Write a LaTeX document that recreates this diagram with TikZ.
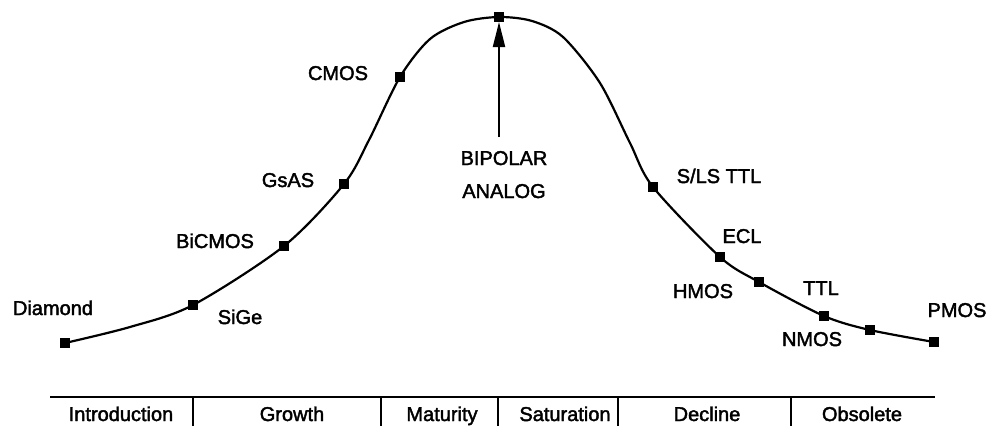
\documentclass[tikz,border=0pt]{standalone}
\usepackage{fontspec}
\setmainfont{Liberation Sans}
\newfontface\labelfont{Liberation Sans}[FakeBold=2]
\usetikzlibrary{arrows.meta}
\begin{document}
\begin{tikzpicture}[x=1pt,y=-1pt,
  curveline/.style={line width=2.2pt,line join=round},
  marker/.style={fill=black,minimum size=10pt,inner sep=0pt,outer sep=0pt},
  tech/.style={anchor=base,inner sep=0pt,font=\labelfont\fontsize{20}{22}\selectfont},
  phase/.style={anchor=base,inner sep=0pt,font=\labelfont\fontsize{20}{22}\selectfont},
  axisline/.style={line width=2pt},
  tickline/.style={line width=1.5pt},
  pointer/.style={line width=2pt,-{Triangle[length=25pt,width=12pt]}}]
\useasboundingbox (0,0) rectangle (988,426);

% points on the life-cycle curve
\coordinate (p1) at (65,343);
\coordinate (p2) at (193,305);
\coordinate (p3) at (284,246);
\coordinate (p4) at (344,184);
\coordinate (p5) at (400,77);
\coordinate (p6) at (499,17);
\coordinate (p7) at (653,187);
\coordinate (p8) at (720,257);
\coordinate (p9) at (759,282);
\coordinate (p10) at (824,316);
\coordinate (p11) at (870,330);
\coordinate (p12) at (934,342);

% the curve itself, with a few shaping points
\draw[curveline] plot[smooth,tension=0.5] coordinates {
  (p1) (130,327) (p2) (p3) (p4) (369,140) (p5) (430,39) (464,22) (p6)
  (532,21) (563,37) (600,83) (630,143) (p7) (p8) (p9) (p10) (p11) (p12)};

% markers
\foreach \i in {1,...,12}
  \node[marker] (m\i) at (p\i) {};

% technology labels
\node[tech] (lDiamond) at (53,315) {Diamond};
\node[tech] (lSiGe) at (240,324) {SiGe};
\node[tech] (lBiCMOS) at (215,248) {BiCMOS};
\node[tech] (lGsAS) at (288,187) {GsAS};
\node[tech] (lCMOS) at (338,80) {CMOS};
\node[tech] (lBipolar) at (504,165) {BIPOLAR};
\node[tech] (lAnalog) at (504,198) {ANALOG};
\node[tech] (lSLS) at (719,183) {S/LS TTL};
\node[tech] (lECL) at (742,243) {ECL};
\node[tech] (lHMOS) at (703,298) {HMOS};
\node[tech] (lTTL) at (821,295) {TTL};
\node[tech] (lNMOS) at (812,346) {NMOS};
\node[tech] (lPMOS) at (957,317) {PMOS};

% arrow pointing at the peak
\coordinate (foot) at (499,137);
\draw[pointer] (foot) -- (m6);

% phase axis
\coordinate (axL) at (50,397);
\coordinate (axR) at (935,397);
\draw[axisline] (axL) -- (axR);
\foreach \x [count=\k] in {193,381,498,618,791}{
  \coordinate (tt\k) at (\x,397);
  \coordinate (tb\k) at (\x,426);
  \draw[tickline] (tt\k) -- (tb\k);
}
\node[phase] (ph1) at (121,421) {Introduction};
\node[phase] (ph2) at (292,421) {Growth};
\node[phase] (ph3) at (442,421) {Maturity};
\node[phase] (ph4) at (565,421) {Saturation};
\node[phase] (ph5) at (707,421) {Decline};
\node[phase] (ph6) at (862,421) {Obsolete};
\end{tikzpicture}
\end{document}
